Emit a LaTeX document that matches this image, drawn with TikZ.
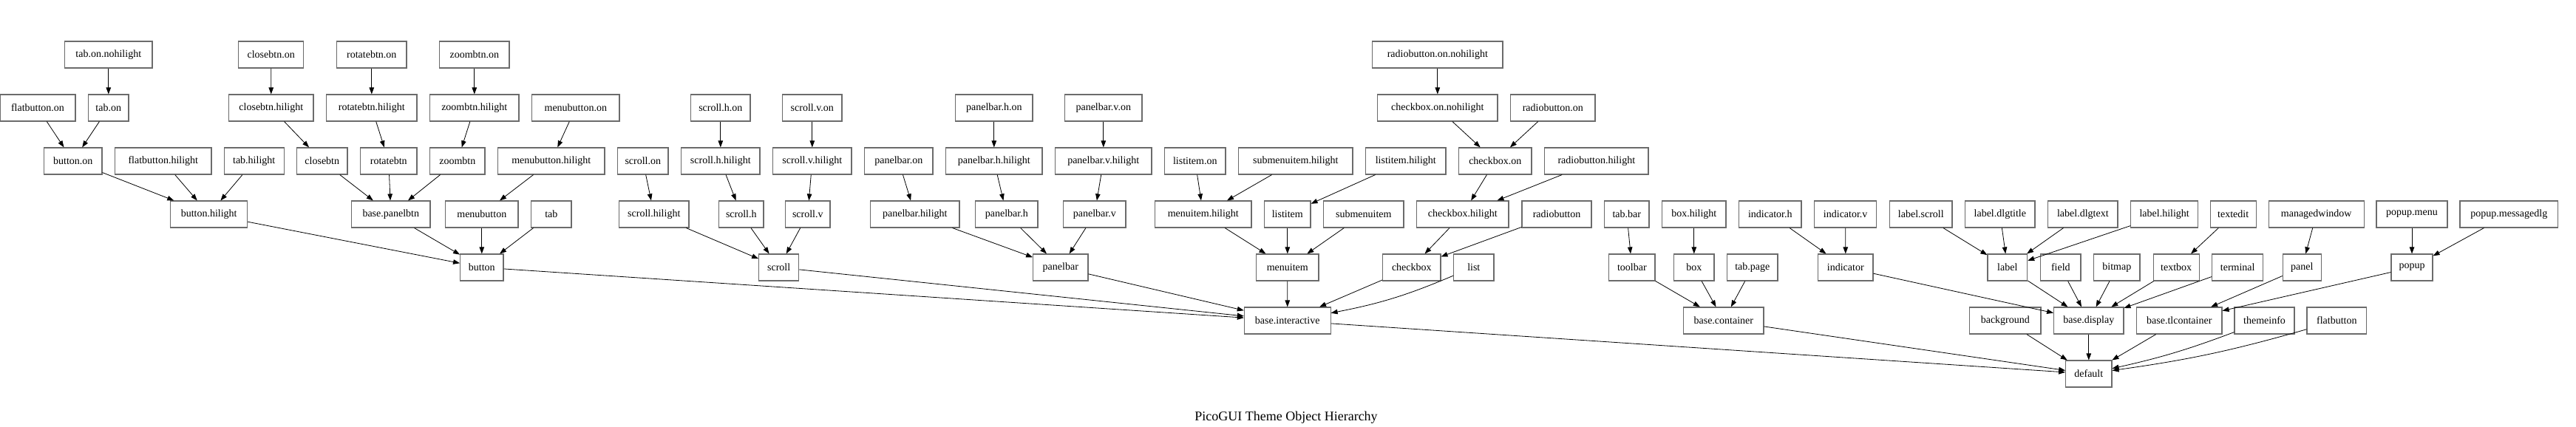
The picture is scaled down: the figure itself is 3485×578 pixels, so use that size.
\documentclass[tikz,border=0pt]{standalone}
\usepackage{fontspec}
\setmainfont{Liberation Serif}
\usepackage{tikz}
\usetikzlibrary{arrows.meta}
\definecolor{boxgray}{gray}{0.42}

\begin{document}
\begin{tikzpicture}[x=1pt, y=-1pt,
        obj/.style={draw=boxgray, line width=1.1pt, rectangle, minimum height=36pt, inner xsep=1pt,
            font=\fontsize{14pt}{16pt}\selectfont},
        derives/.style={draw=black, line width=0.8pt, -{Triangle[length=9pt,width=6.5pt]}}]
    \useasboundingbox (0,0) rectangle (3485,578);

    % row 0
    \node[obj, minimum width=118.3pt] (tabonnohi) at (146.8,74) {tab.on.nohilight};
    \node[obj, minimum width=88pt] (closebton) at (366.7,74) {closebtn.on};
    \node[obj, minimum width=94.3pt] (rotatebton) at (502.8,74) {rotatebtn.on};
    \node[obj, minimum width=94.3pt] (zoombton) at (641.8,74) {zoombtn.on};
    \node[obj, minimum width=176.3pt] (radioonnohi) at (1944.8,74) {radiobutton.on.nohilight};

    % row 1
    \node[obj, minimum width=102pt] (flatbuttonon) at (51,146) {flatbutton.on};
    \node[obj, minimum width=54.3pt] (tabon) at (146.8,146) {tab.on};
    \node[obj, minimum width=114.3pt] (closebthi) at (366.8,146) {closebtn.hilight};
    \node[obj, minimum width=122.3pt] (rotatebthi) at (502.8,146) {rotatebtn.hilight};
    \node[obj, minimum width=120.3pt] (zoombthi) at (641.8,146) {zoombtn.hilight};
    \node[obj, minimum width=118.3pt] (menubuttonon) at (778.8,146) {menubutton.on};
    \node[obj, minimum width=80.3pt] (scrollhon) at (974.8,146) {scroll.h.on};
    \node[obj, minimum width=80.3pt] (scrollvon) at (1098.8,146) {scroll.v.on};
    \node[obj, minimum width=104.3pt] (panelbarhon) at (1344.8,146) {panelbar.h.on};
    \node[obj, minimum width=104.3pt] (panelbarvon) at (1492.8,146) {panelbar.v.on};
    \node[obj, minimum width=162.3pt] (checkboxonnohi) at (1944.8,146) {checkbox.on.nohilight};
    \node[obj, minimum width=114.3pt] (radioon) at (2100.8,146) {radiobutton.on};

    % row 2
    \node[obj, minimum width=78.3pt] (buttonon) at (98.8,218) {button.on};
    \node[obj, minimum width=130.3pt] (flatbuttonhi) at (220.8,218) {flatbutton.hilight};
    \node[obj, minimum width=80.7pt] (tabhi) at (343.7,218) {tab.hilight};
    \node[obj, minimum width=68.3pt] (closebtn) at (435.8,218) {closebtn};
    \node[obj, minimum width=76.3pt] (rotatebtn) at (525.8,218) {rotatebtn};
    \node[obj, minimum width=74.3pt] (zoombtn) at (618.8,218) {zoombtn};
    \node[obj, minimum width=144.3pt] (menubuttonhi) at (745.8,218) {menubutton.hilight};
    \node[obj, minimum width=68.3pt] (scrollon) at (869.8,218) {scroll.on};
    \node[obj, minimum width=106.3pt] (scrollhhi) at (974.8,218) {scroll.h.hilight};
    \node[obj, minimum width=106.3pt] (scrollvhi) at (1098.8,218) {scroll.v.hilight};
    \node[obj, minimum width=92.3pt] (panelbaron) at (1215.8,218) {panelbar.on};
    \node[obj, minimum width=130.3pt] (panelbarhhi) at (1344.8,218) {panelbar.h.hilight};
    \node[obj, minimum width=130.3pt] (panelbarvhi) at (1492.8,218) {panelbar.v.hilight};
    \node[obj, minimum width=82.3pt] (listitemon) at (1616.8,218) {listitem.on};
    \node[obj, minimum width=154.3pt] (submenuitemhi) at (1752.8,218) {submenuitem.hilight};
    \node[obj, minimum width=108.3pt] (listitemhi) at (1901.8,218) {listitem.hilight};
    \node[obj, minimum width=98.3pt] (checkboxon) at (2022.8,218) {checkbox.on};
    \node[obj, minimum width=140.3pt] (radiohi) at (2159.8,218) {radiobutton.hilight};

    % row 3
    \node[obj, minimum width=104pt] (buttonhi) at (282.7,290) {button.hilight};
    \node[obj, minimum width=106.3pt] (basepanelbtn) at (528.8,290) {base.panelbtn};
    \node[obj, minimum width=98.3pt] (menubutton) at (651.8,290) {menubutton};
    \node[obj, minimum width=54.3pt] (tab) at (745.8,290) {tab};
    \node[obj, minimum width=94.3pt] (scrollhi) at (884.8,290) {scroll.hilight};
    \node[obj, minimum width=60.3pt] (scrollh) at (1002.8,290) {scroll.h};
    \node[obj, minimum width=60.3pt] (scrollv) at (1092.8,290) {scroll.v};
    \node[obj, minimum width=120.3pt] (panelbarhi) at (1237.8,290) {panelbar.hilight};
    \node[obj, minimum width=84.3pt] (panelbarh) at (1361.8,290) {panelbar.h};
    \node[obj, minimum width=84.3pt] (panelbarv) at (1480.8,290) {panelbar.v};
    \node[obj, minimum width=130.3pt] (menuitemhi) at (1627.8,290) {menuitem.hilight};
    \node[obj, minimum width=62.3pt] (listitem) at (1741.8,290) {listitem};
    \node[obj, minimum width=108.3pt] (submenuitem) at (1844.8,290) {submenuitem};
    \node[obj, minimum width=124.3pt] (checkboxhi) at (1978.8,290) {checkbox.hilight};
    \node[obj, minimum width=94pt] (radiobutton) at (2106,290) {radiobutton};
    \node[obj, minimum width=60.3pt] (tabbar) at (2200.8,290) {tab.bar};
    \node[obj, minimum width=86.3pt] (boxhi) at (2291.8,290) {box.hilight};
    \node[obj, minimum width=84.3pt] (indicatorh) at (2394.8,290) {indicator.h};
    \node[obj, minimum width=84pt] (indicatorv) at (2496.7,290) {indicator.v};
    \node[obj, minimum width=84.3pt] (labelscroll) at (2598.8,290) {label.scroll};
    \node[obj, minimum width=94.3pt] (labeldlgtitle) at (2705.8,290) {label.dlgtitle};
    \node[obj, minimum width=94.3pt] (labeldlgtext) at (2817.8,290) {label.dlgtext};
    \node[obj, minimum width=91pt] (labelhi) at (2928.2,290) {label.hilight};
    \node[obj, minimum width=61.7pt] (textedit) at (3021.2,290) {textedit};
    \node[obj, minimum width=128.7pt] (managedwindow) at (3133.7,290) {managedwindow};
    \node[obj, minimum width=96pt] (popupmenu) at (3263,290) {popup.menu};
    \node[obj, minimum width=132.7pt] (popupmsgdlg) at (3394.3,290) {popup.messagedlg};

    % row 4
    \node[obj, minimum width=58.3pt] (button) at (651.8,362) {button};
    \node[obj, minimum width=54pt] (scroll) at (1053.7,362) {scroll};
    \node[obj, minimum width=74.3pt] (panelbar) at (1434.8,362) {panelbar};
    \node[obj, minimum width=84.3pt] (menuitem) at (1741.8,362) {menuitem};
    \node[obj, minimum width=78.3pt] (checkbox) at (1909.8,362) {checkbox};
    \node[obj, minimum width=54.3pt] (list) at (1993.8,362) {list};
    \node[obj, minimum width=62.3pt] (toolbar) at (2207.8,362) {toolbar};
    \node[obj, minimum width=54.3pt] (box) at (2291.8,362) {box};
    \node[obj, minimum width=68.3pt] (tabpage) at (2370.8,362) {tab.page};
    \node[obj, minimum width=74.3pt] (indicator) at (2496.8,362) {indicator};
    \node[obj, minimum width=53.7pt] (label) at (2715.8,362) {label};
    \node[obj, minimum width=54.3pt] (field) at (2787.8,362) {field};
    \node[obj, minimum width=62.3pt] (bitmap) at (2863.8,362) {bitmap};
    \node[obj, minimum width=62.3pt] (textbox) at (2944.2,362) {textbox};
    \node[obj, minimum width=69pt] (terminal) at (3027.2,362) {terminal};
    \node[obj, minimum width=52pt] (panel) at (3114.3,362) {panel};
    \node[obj, minimum width=56pt] (popup) at (3263,362) {popup};

    % row 5
    \node[obj, minimum width=116.7pt] (baseinteractive) at (1741.7,434) {base.interactive};
    \node[obj, minimum width=108.3pt] (basecontainer) at (2331.8,434) {base.container};
    \node[obj, minimum width=96.3pt] (background) at (2712.8,434) {background};
    \node[obj, minimum width=94.3pt] (basedisplay) at (2825.8,434) {base.display};
    \node[obj, minimum width=115.3pt] (basetlcontainer) at (2948.3,434) {base.tlcontainer};
    \node[obj, minimum width=81pt] (themeinfo) at (3063.5,434) {themeinfo};
    \node[obj, minimum width=80.7pt] (flatbutton) at (3161.3,434) {flatbutton};

    % row 6
    \node[obj, minimum width=62.3pt] (default) at (2825.8,506) {default};

    \node[font=\fontsize{18pt}{22pt}\selectfont] (title) at (1740,565) {PicoGUI Theme Object Hierarchy};

    % buttons
    \draw[derives] (tabonnohi) -- (tabon);
    \draw[derives] (closebton) -- (closebthi);
    \draw[derives] (rotatebton) -- (rotatebthi);
    \draw[derives] (zoombton) -- (zoombthi);
    \draw[derives] (flatbuttonon) -- (buttonon);
    \draw[derives] (tabon) -- (buttonon);
    \draw[derives] (closebthi) -- (closebtn);
    \draw[derives] (rotatebthi) -- (rotatebtn);
    \draw[derives] (zoombthi) -- (zoombtn);
    \draw[derives] (menubuttonon) -- (menubuttonhi);
    \draw[derives] (buttonon) -- (buttonhi);
    \draw[derives] (flatbuttonhi) -- (buttonhi);
    \draw[derives] (tabhi) -- (buttonhi);
    \draw[derives] (closebtn) -- (basepanelbtn);
    \draw[derives] (rotatebtn) -- (basepanelbtn);
    \draw[derives] (zoombtn) -- (basepanelbtn);
    \draw[derives] (menubuttonhi) -- (menubutton);
    \draw[derives] (buttonhi) -- (button);
    \draw[derives] (basepanelbtn) -- (button);
    \draw[derives] (menubutton) -- (button);
    \draw[derives] (tab) -- (button);
    \draw[derives] (button) -- (baseinteractive);

    % scroll and panelbar
    \draw[derives] (scrollhon) -- (scrollhhi);
    \draw[derives] (scrollvon) -- (scrollvhi);
    \draw[derives] (scrollon) -- (scrollhi);
    \draw[derives] (scrollhhi) -- (scrollh);
    \draw[derives] (scrollvhi) -- (scrollv);
    \draw[derives] (scrollhi) -- (scroll);
    \draw[derives] (scrollh) -- (scroll);
    \draw[derives] (scrollv) -- (scroll);
    \draw[derives] (scroll) -- (baseinteractive);
    \draw[derives] (panelbarhon) -- (panelbarhhi);
    \draw[derives] (panelbarvon) -- (panelbarvhi);
    \draw[derives] (panelbaron) -- (panelbarhi);
    \draw[derives] (panelbarhhi) -- (panelbarh);
    \draw[derives] (panelbarvhi) -- (panelbarv);
    \draw[derives] (panelbarhi) -- (panelbar);
    \draw[derives] (panelbarh) -- (panelbar);
    \draw[derives] (panelbarv) -- (panelbar);
    \draw[derives] (panelbar) -- (baseinteractive);

    % menus and checkboxes
    \draw[derives] (listitemon) -- (menuitemhi);
    \draw[derives] (submenuitemhi) -- (menuitemhi);
    \draw[derives] (listitemhi) -- (listitem);
    \draw[derives] (menuitemhi) -- (menuitem);
    \draw[derives] (listitem) -- (menuitem);
    \draw[derives] (submenuitem) -- (menuitem);
    \draw[derives] (menuitem) -- (baseinteractive);
    \draw[derives] (radioonnohi) -- (checkboxonnohi);
    \draw[derives] (checkboxonnohi) -- (checkboxon);
    \draw[derives] (radioon) -- (checkboxon);
    \draw[derives] (checkboxon) -- (checkboxhi);
    \draw[derives] (radiohi) -- (checkboxhi);
    \draw[derives] (checkboxhi) -- (checkbox);
    \draw[derives] (radiobutton) -- (checkbox);
    \draw[derives] (checkbox) -- (baseinteractive);
    \draw[derives] (list) to[bend left=6] (baseinteractive);
    \draw[derives] (baseinteractive) -- (default);

    % containers and display
    \draw[derives] (tabbar) -- (toolbar);
    \draw[derives] (boxhi) -- (box);
    \draw[derives] (indicatorh) -- (indicator);
    \draw[derives] (indicatorv) -- (indicator);
    \draw[derives] (toolbar) -- (basecontainer);
    \draw[derives] (box) -- (basecontainer);
    \draw[derives] (tabpage) -- (basecontainer);
    \draw[derives] (basecontainer) -- (default);
    \draw[derives] (indicator) -- (basedisplay);
    \draw[derives] (labelscroll) -- (label);
    \draw[derives] (labeldlgtitle) -- (label);
    \draw[derives] (labeldlgtext) -- (label);
    \draw[derives] (labelhi) -- (label);
    \draw[derives] (label) -- (basedisplay);
    \draw[derives] (field) -- (basedisplay);
    \draw[derives] (bitmap) -- (basedisplay);
    \draw[derives] (textbox) -- (basedisplay);
    \draw[derives] (terminal) -- (basedisplay);
    \draw[derives] (textedit) -- (textbox);
    \draw[derives] (managedwindow) -- (panel);
    \draw[derives] (panel) -- (basetlcontainer);
    \draw[derives] (popupmenu) -- (popup);
    \draw[derives] (popupmsgdlg) -- (popup);
    \draw[derives] (popup) -- (basetlcontainer);
    \draw[derives] (background) -- (default);
    \draw[derives] (basedisplay) -- (default);
    \draw[derives] (basetlcontainer) -- (default);
    \draw[derives] (themeinfo) to[bend left=4] (default);
    \draw[derives] (flatbutton) to[bend left=4] (default);
\end{tikzpicture}
\end{document}
